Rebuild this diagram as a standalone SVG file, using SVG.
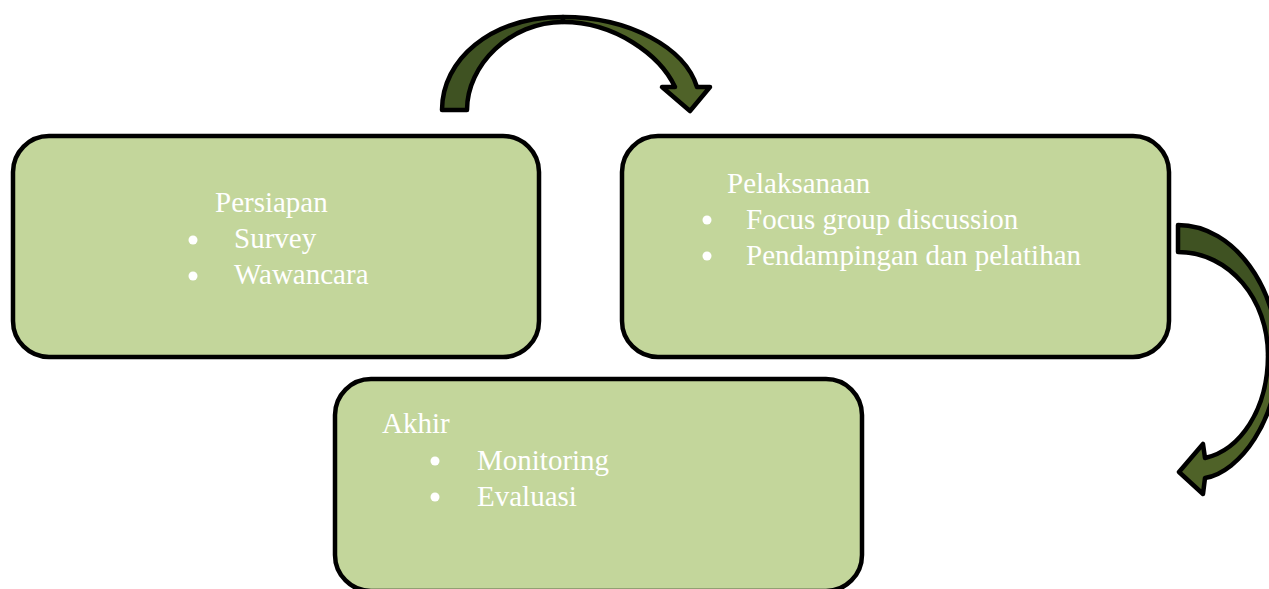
<svg xmlns="http://www.w3.org/2000/svg" width="1269" height="589" viewBox="0 0 1269 589">
<style>
.box{fill:#C3D69B;stroke:#000;stroke-width:4.5}
.t{font-family:"Liberation Serif","Times New Roman",serif;font-size:29px;fill:#fff}
.b{fill:#fff}
.back{fill:#3F5222;stroke:#000;stroke-width:4.5;stroke-linejoin:round}
.front{fill:#4F6228;stroke:#000;stroke-width:4.5;stroke-linejoin:round}
</style>
<rect width="1269" height="589" fill="#fff"/>
<g id="connectors">
<g id="arrow-top">
<path class="back" d="M442,110 C442,60 490,17 563,17 L563,22 C510,22 467,65 467,110 Z"/>
<path class="front" d="M563,17 C630,17 685,48 697,87 L710,87 L690,111 L662,87 L675,87 C660,55 615,22 563,22 Z"/>
</g>
<g id="arrow-right">
<path class="back" d="M1178,225 C1235,225 1278,290 1278,355 L1268,355 C1268,300 1230,252 1178,252 Z"/>
<path class="front" d="M1278,355 C1278,420 1240,472 1205,478 L1203,494 L1179,472 L1203,444 L1205,458 C1240,450 1268,410 1268,355 Z"/>
</g>
</g>
<g id="node-persiapan">
<rect class="box" x="13" y="136" width="526" height="221" rx="36"/>
<text class="t" x="215" y="212">Persiapan</text>
<circle class="b" cx="193" cy="240" r="4.5"/>
<text class="t" x="234" y="248">Survey</text>
<circle class="b" cx="193" cy="276" r="4.5"/>
<text class="t" x="234" y="284">Wawancara</text>
</g>
<g id="node-pelaksanaan">
<rect class="box" x="622" y="136" width="547" height="221" rx="36"/>
<text class="t" x="727" y="193">Pelaksanaan</text>
<circle class="b" cx="707" cy="220" r="4.5"/>
<text class="t" x="746" y="229">Focus group discussion</text>
<circle class="b" cx="707" cy="256" r="4.5"/>
<text class="t" x="746" y="265">Pendampingan dan pelatihan</text>
</g>
<g id="node-akhir">
<rect class="box" x="335" y="379" width="527" height="212" rx="36"/>
<text class="t" x="382" y="433">Akhir</text>
<circle class="b" cx="435" cy="461" r="4.5"/>
<text class="t" x="477" y="470">Monitoring</text>
<circle class="b" cx="435" cy="497" r="4.5"/>
<text class="t" x="477" y="506">Evaluasi</text>
</g>
</svg>
